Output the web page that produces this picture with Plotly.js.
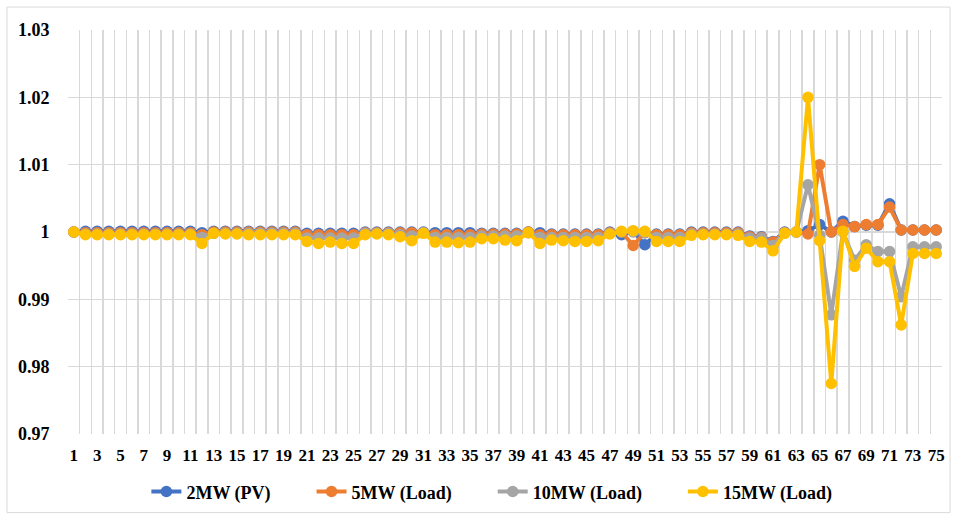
<!DOCTYPE html>
<html>
<head>
<meta charset="utf-8">
<script src="https://cdn.plot.ly/plotly-3.0.1.min.js"></script>
<style>
html,body{margin:0;padding:0;background:#fff;}
#chart{width:957px;height:522px;}
</style>
</head>
<body>
<div id="chart"></div>
<script>
const buses = [1,2,3,4,5,6,7,8,9,10,11,12,13,14,15,16,17,18,19,20,21,22,23,24,25,26,27,28,29,30,31,32,33,34,35,36,37,38,39,40,41,42,43,44,45,46,47,48,49,50,51,52,53,54,55,56,57,58,59,60,61,62,63,64,65,66,67,68,69,70,71,72,73,74,75];

const xTickVals = [1,3,5,7,9,11,13,15,17,19,21,23,25,27,29,31,33,35,37,39,41,43,45,47,49,51,53,55,57,59,61,63,65,67,69,71,73,75];
const xTickText = ["1","3","5","7","9","11","13","15","17","19","21","23","25","27","29","31","33","35","37","39","41","43","45","47","49","51","53","55","57","59","61","63","65","67","69","71","73","75"];
const yTickVals = [0.97,0.98,0.99,1,1.01,1.02,1.03];
const yTickText = ["0.97","0.98","0.99","1","1.01","1.02","1.03"];

const pv2MW = [1.0000,1.0001,1.0001,1.0001,1.0001,1.0001,1.0001,1.0001,1.0001,1.0001,1.0001,0.9999,1.0001,1.0001,1.0001,1.0001,1.0001,1.0001,1.0001,1.0001,
  0.9998,0.9998,0.9998,0.9998,0.9998,1.0000,1.0000,1.0000,1.0000,1.0000,1.0000,0.9999,0.9999,0.9999,0.9999,0.9998,0.9998,0.9998,0.9998,1.0000,
  0.9999,0.9997,0.9997,0.9997,0.9997,0.9997,1.0000,0.9996,1.0001,0.9981,0.9997,0.9997,0.9997,1.0000,1.0000,1.0000,1.0000,1.0000,0.9994,0.9993,
  0.9986,1.0000,1.0000,1.0002,1.0011,1.0000,1.0016,1.0008,1.0010,1.0010,1.0042,1.0003,1.0003,1.0003,1.0003];

const load5MW = [1.0000,0.9999,0.9999,0.9999,0.9999,0.9999,0.9999,0.9999,0.9999,0.9999,0.9999,0.9996,1.0000,1.0000,1.0000,1.0000,1.0000,1.0000,1.0000,1.0000,
  0.9996,0.9996,0.9996,0.9996,0.9996,0.9999,0.9999,0.9999,0.9999,0.9999,0.9999,0.9996,0.9996,0.9996,0.9996,0.9997,0.9997,0.9997,0.9997,1.0000,
  0.9996,0.9996,0.9996,0.9996,0.9996,0.9996,0.9999,1.0000,0.9980,0.9999,0.9996,0.9996,0.9996,0.9999,0.9999,0.9999,0.9999,0.9999,0.9993,0.9992,
  0.9985,0.9999,1.0000,0.9997,1.0100,1.0000,1.0011,1.0008,1.0011,1.0011,1.0037,1.0003,1.0003,1.0003,1.0003];

const load10MW = [1.0000,0.9997,0.9997,0.9997,0.9997,0.9997,0.9997,0.9997,0.9997,0.9997,0.9997,0.9992,0.9998,0.9998,0.9998,0.9998,0.9998,0.9998,0.9998,0.9998,
  0.9991,0.9991,0.9991,0.9991,0.9991,0.9998,0.9998,0.9998,0.9996,0.9994,0.9999,0.9992,0.9992,0.9992,0.9992,0.9994,0.9994,0.9994,0.9994,0.9999,
  0.9992,0.9992,0.9992,0.9992,0.9992,0.9992,0.9998,1.0000,1.0000,0.9999,0.9992,0.9992,0.9992,0.9997,0.9997,0.9997,0.9997,0.9997,0.9991,0.9991,
  0.9980,0.9999,1.0000,1.0070,0.9995,0.9877,1.0000,0.9958,0.9981,0.9971,0.9971,0.9904,0.9978,0.9978,0.9978];

const load15MW = [1.0000,0.9996,0.9996,0.9996,0.9996,0.9996,0.9996,0.9996,0.9996,0.9996,0.9996,0.9983,0.9998,0.9997,0.9997,0.9996,0.9996,0.9996,0.9996,0.9996,
  0.9986,0.9983,0.9985,0.9983,0.9983,0.9996,0.9997,0.9996,0.9993,0.9987,0.9998,0.9985,0.9985,0.9984,0.9985,0.9990,0.9990,0.9988,0.9987,0.9999,
  0.9983,0.9988,0.9987,0.9986,0.9986,0.9987,0.9997,1.0001,1.0002,1.0001,0.9986,0.9986,0.9986,0.9995,0.9996,0.9996,0.9996,0.9995,0.9986,0.9985,
  0.9972,0.9998,1.0000,1.0200,0.9987,0.9775,1.0001,0.9949,0.9976,0.9956,0.9956,0.9862,0.9968,0.9968,0.9968];

const pad = "\u00A0\u00A0\u00A0\u00A0\u00A0\u00A0\u00A0\u00A0";
const seriesNames = ["2MW (PV)" + pad, "5MW (Load)" + pad, "10MW (Load)" + pad, "15MW (Load)"];
const seriesColors = ["#4472C4","#ED7D31","#A5A5A5","#FFC000"];
const seriesValues = [pv2MW, load5MW, load10MW, load15MW];

const traces = seriesValues.map((vals, i) => ({
  type: "scatter",
  mode: "lines+markers",
  name: seriesNames[i],
  x: buses,
  y: vals,
  line: {color: seriesColors[i], width: 4},
  marker: {color: seriesColors[i], size: 11.5}
}));

const font = "'Liberation Serif', 'Times New Roman', Times, serif";

const layout = {
  width: 957,
  height: 522,
  margin: {l: 68, r: 15, t: 30, b: 86},
  paper_bgcolor: "#ffffff",
  plot_bgcolor: "#ffffff",
  showlegend: true,
  font: {family: font, color: "#000000"},
  xaxis: {
    type: "linear",
    range: [0.5, 75.5],
    tickmode: "array",
    tickvals: xTickVals,
    ticktext: xTickText,
    showgrid: false,
    zeroline: false,
    showline: false,
    ticks: "outside",
    ticklen: 6,
    tickcolor: "rgba(0,0,0,0)",
    tickfont: {family: font, size: 17, color: "#000", weight: "bold"},
    minor: {tickmode: "linear", tick0: 0.5, dtick: 1, showgrid: true, gridcolor: "#D9D9D9", gridwidth: 1.5, ticks: ""}
  },
  yaxis: {
    range: [0.97, 1.03],
    tickmode: "array",
    tickvals: yTickVals,
    ticktext: yTickText,
    showgrid: true,
    gridcolor: "#D9D9D9",
    gridwidth: 1.5,
    zeroline: false,
    showline: false,
    ticks: "outside",
    ticklen: 14,
    tickcolor: "rgba(0,0,0,0)",
    tickfont: {family: font, size: 18, color: "#000", weight: "bold"}
  },
  legend: {
    orientation: "h",
    x: 0.485,
    xanchor: "center",
    y: -0.143,
    yanchor: "middle",
    font: {family: font, size: 18, color: "#000", weight: "bold"},
    bgcolor: "rgba(0,0,0,0)"
  },
  shapes: [{
    type: "rect", xref: "paper", yref: "paper",
    x0: -0.0698, x1: 1.0092, y0: -0.1946, y1: 1.0567,
    line: {color: "#D9D9D9", width: 1}
  }]
};

Plotly.newPlot("chart", traces, layout, {displayModeBar: false, staticPlot: true});
</script>
</body>
</html>
